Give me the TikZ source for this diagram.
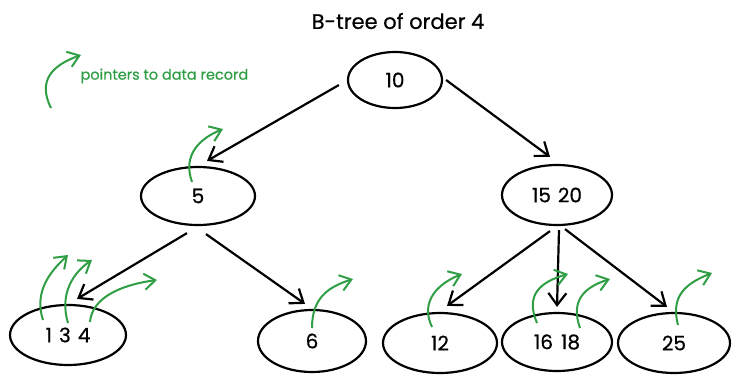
\documentclass[tikz,border=0pt]{standalone}
\usepackage{fontspec}
\setmainfont{Poppins}[FakeBold=0.6]
\usetikzlibrary{arrows.meta,shapes.geometric}
\definecolor{grn}{HTML}{2F9E44}
\begin{document}
\begin{tikzpicture}[x=1pt,y=-1pt,
  key/.style={ellipse,draw=black,line width=2.2pt,inner sep=0pt,font=\fontsize{20}{22}\selectfont},
  edge/.style={draw=black,line width=2.2pt,-{Straight Barb[length=12pt,width=18pt]}},
  ptr/.style={draw=grn,line width=2pt,-{Straight Barb[length=11pt,width=16pt]}},
]
\useasboundingbox (0,0) rectangle (741,383);

\node[font=\fontsize{21}{24}\selectfont] (title) at (398,21) {B-tree of order 4};
\node[anchor=west,text=grn,font=\fontsize{14.5}{16}\selectfont] (legend) at (77,76) {pointers to data record};

\node[key,minimum width=94,minimum height=56] (r) at (395,80) {10};
\node[key,minimum width=114,minimum height=58] (n5) at (198,196) {5};
\node[key,minimum width=110,minimum height=60] (n1520) at (557,195) {15\hspace{7pt}20};
\node[key,minimum width=116,minimum height=60] (n134) at (68,335) {1\hspace{7pt}3\hspace{7pt}4};
\node[key,minimum width=108,minimum height=62] (n6) at (312,341) {6};
\node[key,minimum width=114,minimum height=60] (n12) at (440,343) {12};
\node[key,minimum width=110,minimum height=58] (n1618) at (557,342) {16\hspace{8pt}18};
\node[key,minimum width=112,minimum height=60] (n25) at (674,343) {25};

% tree edges
\draw[edge] ([shift={(-8,5)}]r.west) -- ([shift={(9,-5)}]n5.north);
\draw[edge] ([shift={(3,0)}]r.east) -- ([shift={(-7,-7)}]n1520.north);
\draw[edge] ([shift={(-11,7)}]n5.south) -- ([shift={(9,-5)}]n134.north);
\draw[edge] ([shift={(8,8)}]n5.south) -- ([shift={(-7,-5)}]n6.north);
\draw[edge] ([shift={(-7,5)}]n1520.south) -- ([shift={(7,-6)}]n12.north);
\draw[edge] ([shift={(2,4)}]n1520.south) -- ([shift={(0,-5)}]n1618.north);
\draw[edge] ([shift={(8,3)}]n1520.south) -- ([shift={(-7,-5)}]n25.north);

% pointers to data records
\draw[ptr] ([shift={(-26,32)}]legend.west) .. controls +(-14,-28) and +(-28,10) .. ([shift={(4,-21)}]legend.west);
\draw[ptr] ([shift={(-6,-14)}]n5.center) .. controls +(-10,-28) and +(-22,9) .. ([shift={(25,-67)}]n5.center);
\draw[ptr] ([shift={(-25,-15)}]n134.center) .. controls +(-10,-30) and +(-15,14) .. ([shift={(0,-80)}]n134.center);
\draw[ptr] ([shift={(0,-12)}]n134.center) .. controls +(-9,-30) and +(-18,12) .. ([shift={(24,-75)}]n134.center);
\draw[ptr] ([shift={(22,-13)}]n134.center) .. controls +(2,-24) and +(-37,5) .. ([shift={(89,-55)}]n134.center);
\draw[ptr] ([shift={(0,-13)}]n6.center) .. controls +(0,-30) and +(-25,8) .. ([shift={(41,-62)}]n6.center);
\draw[ptr] ([shift={(-8,-16)}]n12.center) .. controls +(-12,-25) and +(-25,10) .. ([shift={(22,-69)}]n12.center);
\draw[ptr] ([shift={(-20,-19)}]n1618.center) .. controls +(-12,-28) and +(-28,8) .. ([shift={(11,-68)}]n1618.center);
\draw[ptr] ([shift={(23,-14)}]n1618.center) .. controls +(-10,-28) and +(-25,8) .. ([shift={(53,-63)}]n1618.center);
\draw[ptr] ([shift={(4,-18)}]n25.center) .. controls +(-8,-30) and +(-25,10) .. ([shift={(38,-70)}]n25.center);
\end{tikzpicture}
\end{document}
